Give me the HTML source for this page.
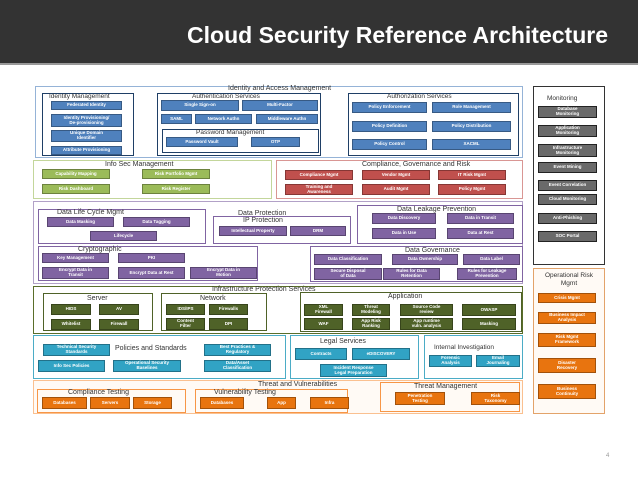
<!DOCTYPE html>
<html><head><meta charset="utf-8"><style>
*{margin:0;padding:0;box-sizing:border-box}
body{width:638px;height:479px;background:#fff;position:relative;overflow:hidden;font-family:"Liberation Sans",sans-serif}
.hd{position:absolute;left:0;top:0;width:638px;height:65px;background:#333;border-bottom:2px solid #999}
.hd span{position:absolute;right:30px;top:22px;color:#fff;font-weight:bold;font-size:23px}
.f{position:absolute;border:1.5px solid}
.t{position:absolute;font-size:8px;color:#333;white-space:nowrap;line-height:1}
.b{position:absolute;color:#fff;font-size:4.5px;font-weight:bold;display:flex;align-items:center;justify-content:center;text-align:center;line-height:1.1;border:1px solid rgba(0,0,0,.3)}
.bl{background:#4f81bd}.rd{background:#c0504d}.gn{background:#9bbb59}.pu{background:#8064a2}.dg{background:#4f6228}.cy{background:#31a3c4}.or{background:#e8740f}.gy{background:#6a6a6a;border:1.5px solid #222}
</style></head><body>
<div class="hd"><span>Cloud Security Reference Architecture</span></div>

<!-- IAM -->
<div class="f" style="left:35px;top:86px;width:488px;height:72px;border-color:#95b3d7;border-width:1px"></div>
<div class="t" style="left:228px;top:85px;font-size:7px">Identity and Access Management</div>
<div class="f" style="left:42px;top:93px;width:92px;height:63px;border-color:#1f3f66"></div>
<div class="t" style="left:49px;top:94px;font-size:6.5px">Identity Management</div>
<div class="b bl" style="left:51px;top:101px;width:71px;height:9px">Federated Identity</div>
<div class="b bl" style="left:51px;top:114px;width:71px;height:13px">Identity Provisioning/<br>De-provisioning</div>
<div class="b bl" style="left:51px;top:130px;width:71px;height:12px">Unique Domain<br>Identifier</div>
<div class="b bl" style="left:51px;top:146px;width:71px;height:9px">Attribute Provisioning</div>
<div class="f" style="left:157px;top:93px;width:164px;height:63px;border-color:#1f3f66"></div>
<div class="t" style="left:192px;top:94px;font-size:6.5px">Authentication Services</div>
<div class="b bl" style="left:161px;top:100px;width:78px;height:11px">Single Sign-on</div>
<div class="b bl" style="left:242px;top:100px;width:76px;height:11px">Multi-Factor</div>
<div class="b bl" style="left:161px;top:114px;width:31px;height:10px">SAML</div>
<div class="b bl" style="left:195px;top:114px;width:57px;height:10px">Network Authn</div>
<div class="b bl" style="left:256px;top:114px;width:62px;height:10px">Middleware Authn</div>
<div class="f" style="left:162px;top:129px;width:157px;height:24px;border-color:#1f3f66"></div>
<div class="t" style="left:196px;top:130px;font-size:6.5px">Password Management</div>
<div class="b bl" style="left:166px;top:137px;width:72px;height:10px">Password Vault</div>
<div class="b bl" style="left:251px;top:137px;width:49px;height:10px">OTP</div>
<div class="f" style="left:348px;top:93px;width:171px;height:63px;border-color:#1f3f66"></div>
<div class="t" style="left:387px;top:94px;font-size:6.5px">Authorization Services</div>
<div class="b bl" style="left:352px;top:102px;width:75px;height:11px">Policy Enforcement</div>
<div class="b bl" style="left:432px;top:102px;width:79px;height:11px">Role Management</div>
<div class="b bl" style="left:352px;top:121px;width:75px;height:11px">Policy Definition</div>
<div class="b bl" style="left:432px;top:121px;width:79px;height:11px">Policy Distribution</div>
<div class="b bl" style="left:352px;top:139px;width:75px;height:11px">Policy Control</div>
<div class="b bl" style="left:432px;top:139px;width:79px;height:11px">XACML</div>

<!-- Info sec -->
<div class="f" style="left:33px;top:160px;width:239px;height:39px;border-color:#c3d69b"></div>
<div class="t" style="left:105px;top:161px;font-size:7px">Info Sec Management</div>
<div class="b gn" style="left:42px;top:169px;width:68px;height:10px">Capability Mapping</div>
<div class="b gn" style="left:142px;top:169px;width:68px;height:10px">Risk Portfolio Mgmt</div>
<div class="b gn" style="left:42px;top:184px;width:68px;height:10px">Risk Dashboard</div>
<div class="b gn" style="left:142px;top:184px;width:68px;height:10px">Risk Register</div>
<div class="f" style="left:276px;top:160px;width:247px;height:39px;border-color:#d99694"></div>
<div class="t" style="left:362px;top:161px;font-size:7px">Compliance, Governance and Risk</div>
<div class="b rd" style="left:285px;top:170px;width:68px;height:10px">Compliance Mgmt</div>
<div class="b rd" style="left:362px;top:170px;width:68px;height:10px">Vendor Mgmt</div>
<div class="b rd" style="left:438px;top:170px;width:68px;height:10px">IT Risk Mgmt</div>
<div class="b rd" style="left:285px;top:184px;width:68px;height:11px">Training and<br>Awareness</div>
<div class="b rd" style="left:362px;top:184px;width:68px;height:11px">Audit Mgmt</div>
<div class="b rd" style="left:438px;top:184px;width:68px;height:11px">Policy Mgmt</div>

<!-- Data -->
<div class="f" style="left:33px;top:201px;width:490px;height:83px;border-color:#b2a1c7"></div>
<div class="f" style="left:38px;top:209px;width:168px;height:35px;border-color:#8064a2"></div>
<div class="t" style="left:57px;top:209px;font-size:7px">Data Life Cycle Mgmt</div>
<div class="b pu" style="left:47px;top:217px;width:67px;height:10px">Data Masking</div>
<div class="b pu" style="left:123px;top:217px;width:67px;height:10px">Data Tagging</div>
<div class="b pu" style="left:90px;top:231px;width:67px;height:10px">Lifecycle</div>
<div class="t" style="left:238px;top:210px;font-size:7px">Data Protection</div>
<div class="f" style="left:213px;top:216px;width:138px;height:28px;border-color:#8064a2"></div>
<div class="t" style="left:243px;top:217px;font-size:7px">IP Protection</div>
<div class="b pu" style="left:219px;top:226px;width:68px;height:10px">Intellectual Property</div>
<div class="b pu" style="left:290px;top:226px;width:56px;height:10px">DRM</div>
<div class="f" style="left:357px;top:205px;width:166px;height:39px;border-color:#8064a2"></div>
<div class="t" style="left:397px;top:206px;font-size:7px">Data Leakage Prevention</div>
<div class="b pu" style="left:372px;top:213px;width:64px;height:11px">Data Discovery</div>
<div class="b pu" style="left:447px;top:213px;width:67px;height:11px">Data in Transit</div>
<div class="b pu" style="left:372px;top:228px;width:64px;height:11px">Data in Use</div>
<div class="b pu" style="left:447px;top:228px;width:67px;height:11px">Data at Rest</div>
<div class="f" style="left:38px;top:246px;width:220px;height:35px;border-color:#8064a2"></div>
<div class="t" style="left:78px;top:246px;font-size:7px">Cryptographic</div>
<div class="b pu" style="left:42px;top:253px;width:67px;height:10px">Key Management</div>
<div class="b pu" style="left:118px;top:253px;width:67px;height:10px">PKI</div>
<div class="b pu" style="left:42px;top:267px;width:67px;height:12px">Encrypt Data in<br>Transit</div>
<div class="b pu" style="left:118px;top:267px;width:67px;height:12px">Encrypt Data at Rest</div>
<div class="b pu" style="left:190px;top:267px;width:67px;height:12px">Encrypt Data in<br>Motion</div>
<div class="f" style="left:310px;top:246px;width:213px;height:36px;border-color:#8064a2"></div>
<div class="t" style="left:405px;top:247px;font-size:7px">Data Governance</div>
<div class="b pu" style="left:314px;top:254px;width:68px;height:11px">Data Classification</div>
<div class="b pu" style="left:392px;top:254px;width:66px;height:11px">Data Ownership</div>
<div class="b pu" style="left:463px;top:254px;width:57px;height:11px">Data Label</div>
<div class="b pu" style="left:314px;top:268px;width:68px;height:12px">Secure Disposal<br>of Data</div>
<div class="b pu" style="left:383px;top:268px;width:57px;height:12px">Rules for Data<br>Retention</div>
<div class="b pu" style="left:457px;top:268px;width:60px;height:12px">Rules for Leakage<br>Prevention</div>

<!-- Infra -->
<div class="f" style="left:33px;top:286px;width:490px;height:48px;border-color:#5a6e2a"></div>
<div class="t" style="left:212px;top:286px;font-size:7px">Infrastructure Protection Services</div>
<div class="f" style="left:43px;top:293px;width:110px;height:38px;border-color:#4f6228"></div>
<div class="t" style="left:87px;top:295px;font-size:7px">Server</div>
<div class="b dg" style="left:51px;top:304px;width:40px;height:11px">HIDS</div>
<div class="b dg" style="left:99px;top:304px;width:40px;height:11px">AV</div>
<div class="b dg" style="left:51px;top:319px;width:40px;height:11px">Whitelist</div>
<div class="b dg" style="left:99px;top:319px;width:40px;height:11px">Firewall</div>
<div class="f" style="left:161px;top:293px;width:106px;height:38px;border-color:#4f6228"></div>
<div class="t" style="left:200px;top:295px;font-size:7px">Network</div>
<div class="b dg" style="left:166px;top:304px;width:39px;height:11px">IDS/IPS</div>
<div class="b dg" style="left:209px;top:304px;width:39px;height:11px">Firewalls</div>
<div class="b dg" style="left:166px;top:318px;width:39px;height:12px">Content<br>Filter</div>
<div class="b dg" style="left:209px;top:318px;width:39px;height:12px">DPI</div>
<div class="f" style="left:300px;top:292px;width:222px;height:40px;border-color:#4f6228"></div>
<div class="t" style="left:388px;top:293px;font-size:7px">Application</div>
<div class="b dg" style="left:304px;top:304px;width:39px;height:12px">XML<br>Firewall</div>
<div class="b dg" style="left:352px;top:304px;width:38px;height:12px">Threat<br>Modeling</div>
<div class="b dg" style="left:400px;top:304px;width:53px;height:12px">Source Code<br>review</div>
<div class="b dg" style="left:462px;top:304px;width:54px;height:12px">OWASP</div>
<div class="b dg" style="left:304px;top:318px;width:39px;height:12px">WAF</div>
<div class="b dg" style="left:352px;top:318px;width:38px;height:12px">App Risk<br>Ranking</div>
<div class="b dg" style="left:400px;top:318px;width:53px;height:12px">App runtime<br>vuln. analysis</div>
<div class="b dg" style="left:462px;top:318px;width:54px;height:12px">Masking</div>

<!-- Policies -->
<div class="f" style="left:33px;top:335px;width:253px;height:44px;border-color:#4bacc6"></div>
<div class="t" style="left:115px;top:345px;font-size:7px">Policies and Standards</div>
<div class="b cy" style="left:43px;top:344px;width:67px;height:12px">Technical Security<br>Standards</div>
<div class="b cy" style="left:38px;top:360px;width:67px;height:12px">Info Sec Policies</div>
<div class="b cy" style="left:113px;top:360px;width:68px;height:12px">Operational Security<br>Baselines</div>
<div class="b cy" style="left:204px;top:344px;width:67px;height:12px">Best Practices &amp;<br>Regulatory</div>
<div class="b cy" style="left:204px;top:360px;width:67px;height:12px">Data/Asset<br>Classification</div>
<div class="f" style="left:290px;top:335px;width:129px;height:44px;border-color:#4bacc6"></div>
<div class="t" style="left:320px;top:338px;font-size:7px">Legal Services</div>
<div class="b cy" style="left:295px;top:348px;width:52px;height:12px">Contracts</div>
<div class="b cy" style="left:352px;top:348px;width:58px;height:12px">eDISCOVERY</div>
<div class="b cy" style="left:320px;top:364px;width:67px;height:13px">Incident Response<br>Legal Preparation</div>
<div class="f" style="left:424px;top:335px;width:99px;height:44px;border-color:#4bacc6"></div>
<div class="t" style="left:434px;top:345px;font-size:6.5px">Internal Investigation</div>
<div class="b cy" style="left:429px;top:355px;width:43px;height:12px">Forensic<br>Analysis</div>
<div class="b cy" style="left:476px;top:355px;width:44px;height:12px">Email<br>Journaling</div>

<!-- Threat -->
<div class="f" style="left:33px;top:380px;width:490px;height:34px;border-color:#fac090;background:#fffaf5"></div>
<div class="t" style="left:258px;top:381px;font-size:7px">Threat and Vulnerabilities</div>
<div class="f" style="left:37px;top:389px;width:149px;height:24px;border-color:#f79646"></div>
<div class="t" style="left:68px;top:389px;font-size:7px">Compliance Testing</div>
<div class="b or" style="left:42px;top:397px;width:45px;height:12px">Databases</div>
<div class="b or" style="left:90px;top:397px;width:40px;height:12px">Servers</div>
<div class="b or" style="left:133px;top:397px;width:39px;height:12px">Storage</div>
<div class="f" style="left:195px;top:389px;width:153px;height:24px;border-color:#f79646"></div>
<div class="t" style="left:214px;top:389px;font-size:7px">Vulnerability Testing</div>
<div class="b or" style="left:200px;top:397px;width:44px;height:12px">Databases</div>
<div class="b or" style="left:267px;top:397px;width:29px;height:12px">App</div>
<div class="b or" style="left:310px;top:397px;width:39px;height:12px">Infra</div>
<div class="f" style="left:380px;top:382px;width:140px;height:30px;border-color:#f79646"></div>
<div class="t" style="left:414px;top:383px;font-size:7px">Threat Management</div>
<div class="b or" style="left:395px;top:392px;width:50px;height:13px">Penetration<br>Testing</div>
<div class="b or" style="left:471px;top:392px;width:49px;height:13px">Risk<br>Taxonomy</div>

<!-- Monitoring -->
<div class="f" style="left:533px;top:86px;width:72px;height:179px;border-color:#333"></div>
<div class="t" style="left:547px;top:96px;font-size:6.5px">Monitoring</div>
<div class="b gy" style="left:538px;top:106px;width:59px;height:12px">Database<br>Monitoring</div>
<div class="b gy" style="left:538px;top:125px;width:59px;height:12px">Application<br>Monitoring</div>
<div class="b gy" style="left:538px;top:144px;width:59px;height:13px">Infrastructure<br>Monitoring</div>
<div class="b gy" style="left:538px;top:162px;width:59px;height:11px">Event Mining</div>
<div class="b gy" style="left:538px;top:180px;width:59px;height:11px">Event Correlation</div>
<div class="b gy" style="left:538px;top:194px;width:59px;height:11px">Cloud Monitoring</div>
<div class="b gy" style="left:538px;top:213px;width:59px;height:11px">Anti-Phishing</div>
<div class="b gy" style="left:538px;top:231px;width:59px;height:11px">SOC Portal</div>
<div class="f" style="left:533px;top:268px;width:72px;height:146px;border-color:#e3a36a;background:#fffaf5"></div>
<div class="t" style="left:535px;top:272px;width:68px;text-align:center;font-size:6.5px;line-height:1.3">Operational Risk<br>Mgmt</div>
<div class="b or" style="left:538px;top:293px;width:58px;height:10px">Crisis Mgmt</div>
<div class="b or" style="left:538px;top:312px;width:58px;height:12px">Business Impact<br>Analysis</div>
<div class="b or" style="left:538px;top:333px;width:58px;height:14px">Risk Mgmt<br>Framework</div>
<div class="b or" style="left:538px;top:358px;width:58px;height:15px">Disaster<br>Recovery</div>
<div class="b or" style="left:538px;top:384px;width:58px;height:15px">Business<br>Continuity</div>

<div class="t" style="left:606px;top:453px;font-size:6px;color:#999">4</div>
</body></html>
